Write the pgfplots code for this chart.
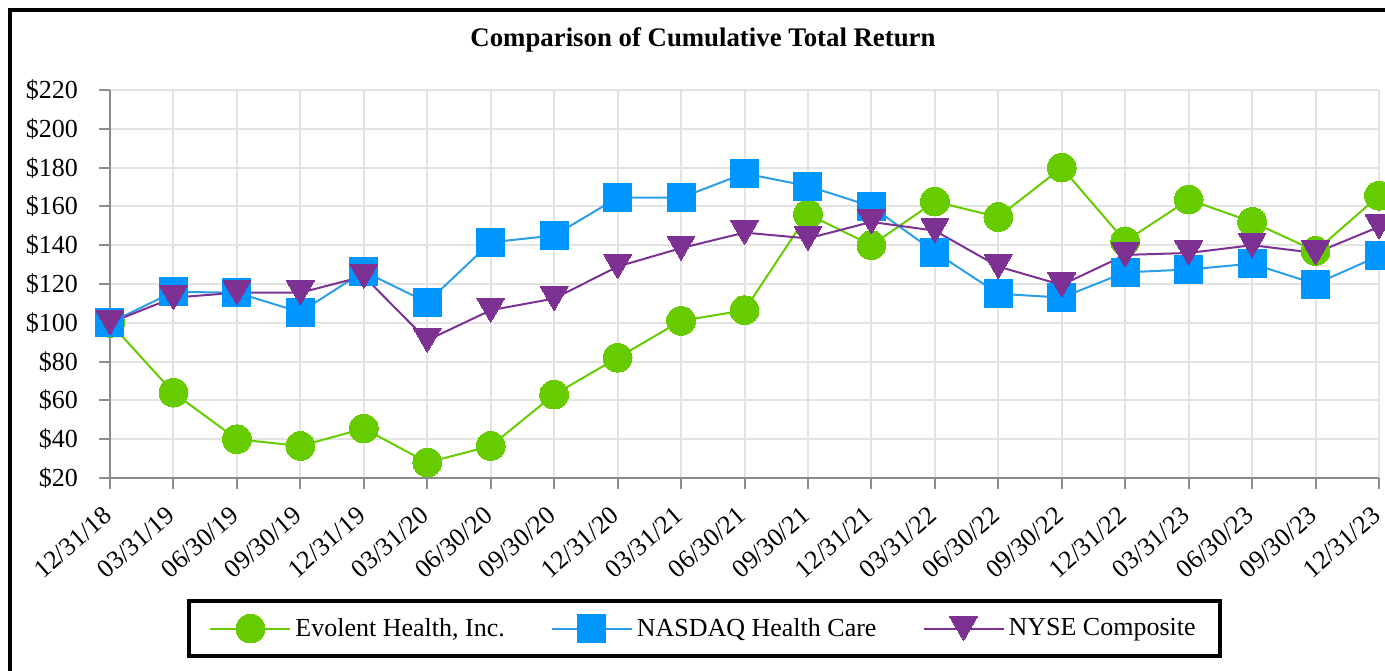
\documentclass[border=0pt]{standalone}
\usepackage{fontspec}
\setmainfont{Liberation Serif}
\usepackage{pgfplots}
\pgfplotsset{compat=1.18}
\definecolor{cgreen}{HTML}{66CC00}
\definecolor{cblue}{HTML}{0096FF}
\definecolor{cblueline}{HTML}{2A9FE8}
\definecolor{cpurple}{HTML}{7D3293}
\definecolor{cgrid}{HTML}{E3E3E3}
\definecolor{caxis}{HTML}{8C8C8C}
\pgfdeclareplotmark{dtri}{%
 \pgfpathmoveto{\pgfqpoint{-0.866\pgfplotmarksize}{0.75\pgfplotmarksize}}%
 \pgfpathlineto{\pgfqpoint{0.866\pgfplotmarksize}{0.75\pgfplotmarksize}}%
 \pgfpathlineto{\pgfqpoint{0pt}{-0.75\pgfplotmarksize}}%
 \pgfpathclose
 \pgfusepathqfillstroke}
\pgfplotstableread{
x evolent nasdaq nyse
0 100 100 100
1 64 116 113
2 40 115.5 115.5
3 36.5 105.5 115.5
4 45.5 126.5 124
5 28 110.5 91
6 36.5 141.5 106.5
7 63 145 112.5
8 82 164.5 129
9 101 164.5 138.5
10 106.5 177 146.5
11 156 170.5 143.5
12 140 160 152
13 162.5 136.5 147.5
14 154.5 115 129
15 180 113 119.5
16 142 126 135
17 163.5 127.5 136
18 152 130.5 140
19 137 120 136
20 165.5 134.5 149.5
}\datatable
\begin{document}
\begin{tikzpicture}
\useasboundingbox (0,0) rectangle (692.5pt,-335pt);
\draw[line width=2pt] (5pt,-345pt) -- (5pt,-5pt) -- (700pt,-5pt);
\node[font=\fontsize{13.4}{15}\selectfont\bfseries] at (351.5pt,-20pt) {Comparison of Cumulative Total Return};
\begin{axis}[at={(55pt,-239pt)}, anchor=south west, scale only axis,
  width=634.5pt, height=194pt,
  xmin=0, xmax=20, ymin=20, ymax=220, clip=false,
  axis x line*=bottom, axis y line*=left,
  axis line style={caxis, line width=1pt},
  tick style={caxis, line width=1pt}, tick align=outside, major tick length=5.5pt,
  xtick={0,...,20},
  xticklabels={12/31/18,03/31/19,06/30/19,09/30/19,12/31/19,03/31/20,06/30/20,09/30/20,12/31/20,03/31/21,06/30/21,09/30/21,12/31/21,03/31/22,06/30/22,09/30/22,12/31/22,03/31/23,06/30/23,09/30/23,12/31/23},
  xticklabel style={xshift=-4pt, yshift=-6.5pt, rotate=41, anchor=north east, inner sep=1pt},
  ytick={20,40,...,220},
  yticklabels={\$20,\$40,\$60,\$80,\$100,\$120,\$140,\$160,\$180,\$200,\$220},
  yticklabel style={xshift=-7pt},
  ticklabel style={font=\fontsize{13}{15}\selectfont},
  grid=major, major grid style={cgrid, line width=1pt},
  legend columns=3,
  legend cell align=left,
  legend style={at={(0.4685,-0.388)}, anchor=center, draw=black, line width=2pt,
    font=\fontsize{13}{15}\selectfont, inner xsep=10pt, inner ysep=6.5pt,
    /tikz/every even column/.append style={column sep=21pt}},
  legend image code/.code={\draw[mark repeat=2, mark phase=2] plot coordinates {(0pt,0pt) (20pt,0pt) (40pt,0pt)};},
]
\addplot[color=cgreen, line width=1pt, mark=*, mark size=7.2pt, mark options={fill=cgreen, draw=cgreen, line width=0pt}] table[x=x, y=evolent] {\datatable};
\addlegendentry{Evolent Health, Inc.}
\addplot[color=cblueline, line width=1pt, mark=square*, mark size=7pt, mark options={fill=cblue, draw=cblue, line width=0pt}] table[x=x, y=nasdaq] {\datatable};
\addlegendentry{NASDAQ Health Care}
\addplot[color=cpurple, line width=1pt, mark=dtri, mark size=8pt, mark options={fill=cpurple, draw=cpurple, line width=0pt}] table[x=x, y=nyse] {\datatable};
\addlegendentry{NYSE Composite}
\end{axis}
\end{tikzpicture}
\end{document}
